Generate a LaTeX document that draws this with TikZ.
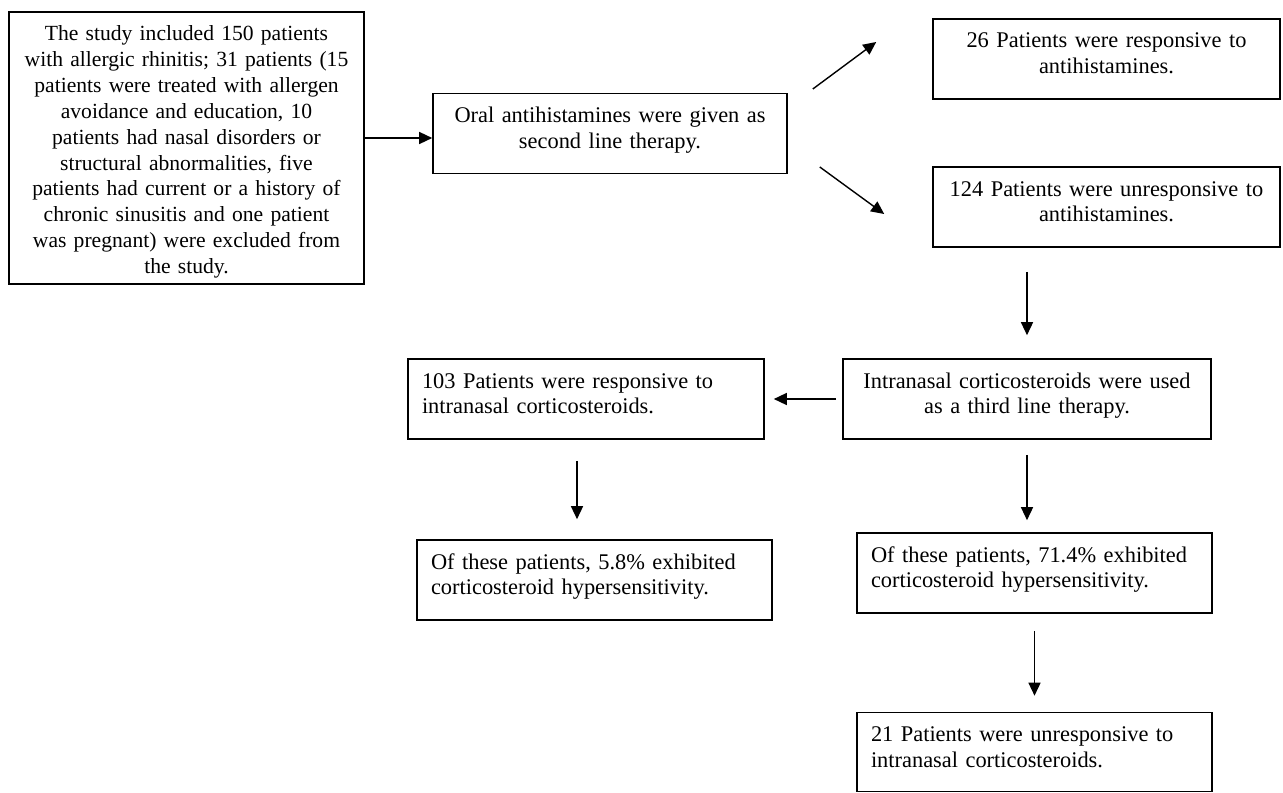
\documentclass[tikz,border=0pt]{standalone}
\usepackage{fontspec}
\setmainfont{Liberation Serif}
\usetikzlibrary{arrows.meta,calc,positioning}
\tikzset{
  flowbox/.style = {draw, line width=0.8pt, inner xsep=7pt, inner ysep=6.5pt,
                    text height=8pt, text depth=19pt,
                    font=\fontsize{11.2}{12.9}\selectfont},
  flow/.style    = {-{Triangle[length=6.5pt,width=6pt]}, line width=0.7pt},
}

\begin{document}
\begin{tikzpicture}[x=0.5pt, y=-0.5pt]
  \useasboundingbox (0,0) rectangle (1283,792);
  \node[flowbox, align=center, inner xsep=3pt, text width=171.5pt, text depth=115pt,
        font=\fontsize{10.8}{12.9}\selectfont] (study) at (186.5,148)
    {The study included 150 patients\\ with allergic rhinitis; 31 patients (15\\ patients were treated with allergen\\
     avoidance and education, 10\\ patients had nasal disorders or\\ structural abnormalities, five\\
     patients had current or a history of\\ chronic sinusitis and one patient\\ was pregnant) were excluded from\\ the study.};
  \node[flowbox, align=center, text width=163pt] (oral) at (610,133.5)
    {Oral antihistamines were given as\\ second line therapy.};
  \node[flowbox, align=center, text width=159.5pt] (resp) at (1106.5,59)
    {26 Patients were responsive to\\ antihistamines.};
  \node[flowbox, align=center, text width=159.5pt] (unresp) at (1106.5,207)
    {124 Patients were unresponsive to\\ antihistamines.};
  \node[flowbox, align=center, text width=170pt] (nasal) at (1027,399)
    {Intranasal corticosteroids were used\\ as a third line therapy.};
  \node[flowbox, align=left, text width=164pt] (nresp) at (586,399)
    {103 Patients were responsive to\\ intranasal corticosteroids.};
  \node[flowbox, align=left, text width=163.5pt] (hyplow) at (594.5,580)
    {Of these patients, 5.8\% exhibited\\ corticosteroid hypersensitivity.};
  \node[flowbox, align=left, text width=163.5pt] (hyphigh) at (1034.5,573)
    {Of these patients, 71.4\% exhibited\\ corticosteroid hypersensitivity.};
  \node[flowbox, align=left, text width=163.5pt, text depth=18.5pt] (nunresp) at (1034.5,752)
    {21 Patients were unresponsive to\\ intranasal corticosteroids.};

  \draw[flow] ([yshift=-2.25pt]study.east |- oral.west) -- ([yshift=-2.25pt]oral.west);
  \draw[flow] ([xshift=12.5pt,yshift=22.25pt]oral.east) -- ([xshift=-28pt,yshift=8.5pt]resp.west);
  \draw[flow] ([xshift=16pt,yshift=-16.75pt]oral.east) -- ([xshift=-24pt,yshift=-3.5pt]unresp.west);
  \draw[flow, shorten <=12pt, shorten >=11.5pt] (nasal.north |- unresp.south) -- (nasal.north);
  \draw[flow, shorten <=3pt, shorten >=4.5pt] (nasal.west) -- (nresp.east);
  \draw[flow, shorten <=10.5pt, shorten >=10pt] ([xshift=-4.5pt]nresp.south) -- ([xshift=-4.5pt]nresp.south |- hyplow.north);
  \draw[flow, shorten <=7.5pt, shorten >=6pt] (nasal.south) -- (nasal.south |- hyphigh.north);
  \draw[flow, shorten <=8.5pt, shorten >=8pt] (hyphigh.south) -- (nunresp.north);
\end{tikzpicture}
\end{document}
